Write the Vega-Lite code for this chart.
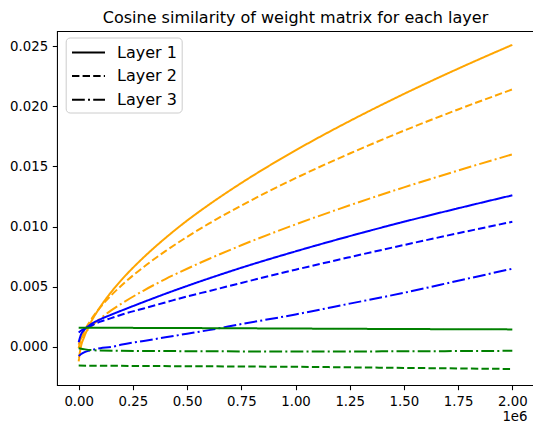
{
  "$schema": "https://vega.github.io/schema/vega-lite/v6.json",
  "autosize": {"type": "none"},
  "width": 477,
  "height": 354,
  "padding": {"left": 57, "top": 31, "right": 0, "bottom": 38},
  "background": "white",
  "title": {"text": "Cosine similarity of weight matrix for each layer", "fontSize": 16, "font": "DejaVu Sans", "fontWeight": "normal", "color": "black", "offset": 5, "anchor": "middle"},
  "config": {
    "font": "DejaVu Sans",
    "view": {"stroke": "black", "strokeWidth": 1.07},
    "axis": {"grid": false, "domain": false, "tickColor": "black", "tickSize": 4.7, "tickWidth": 1.07, "labelPadding": 4.7, "labelFontSize": 13.3, "labelColor": "black", "labelFont": "DejaVu Sans"}
  },
  "data": {"values": [
    {"x": 0, "y": -0.0012, "run": "orange", "layer": "Layer 1"},
    {"x": 5000, "y": -0.0005, "run": "orange", "layer": "Layer 1"},
    {"x": 10000, "y": 0.0000, "run": "orange", "layer": "Layer 1"},
    {"x": 25000, "y": 0.00082, "run": "orange", "layer": "Layer 1"},
    {"x": 50000, "y": 0.00183, "run": "orange", "layer": "Layer 1"},
    {"x": 100000, "y": 0.00334, "run": "orange", "layer": "Layer 1"},
    {"x": 150000, "y": 0.00456, "run": "orange", "layer": "Layer 1"},
    {"x": 200000, "y": 0.00562, "run": "orange", "layer": "Layer 1"},
    {"x": 300000, "y": 0.00745, "run": "orange", "layer": "Layer 1"},
    {"x": 400000, "y": 0.00905, "run": "orange", "layer": "Layer 1"},
    {"x": 500000, "y": 0.0105, "run": "orange", "layer": "Layer 1"},
    {"x": 600000, "y": 0.01181, "run": "orange", "layer": "Layer 1"},
    {"x": 750000, "y": 0.01362, "run": "orange", "layer": "Layer 1"},
    {"x": 1000000, "y": 0.01633, "run": "orange", "layer": "Layer 1"},
    {"x": 1250000, "y": 0.01877, "run": "orange", "layer": "Layer 1"},
    {"x": 1500000, "y": 0.02102, "run": "orange", "layer": "Layer 1"},
    {"x": 1750000, "y": 0.02312, "run": "orange", "layer": "Layer 1"},
    {"x": 2000000, "y": 0.0251, "run": "orange", "layer": "Layer 1"},

    {"x": 0, "y": -0.0001, "run": "orange", "layer": "Layer 2"},
    {"x": 10000, "y": 0.0006, "run": "orange", "layer": "Layer 2"},
    {"x": 25000, "y": 0.00127, "run": "orange", "layer": "Layer 2"},
    {"x": 50000, "y": 0.00207, "run": "orange", "layer": "Layer 2"},
    {"x": 100000, "y": 0.0033, "run": "orange", "layer": "Layer 2"},
    {"x": 150000, "y": 0.00429, "run": "orange", "layer": "Layer 2"},
    {"x": 200000, "y": 0.00515, "run": "orange", "layer": "Layer 2"},
    {"x": 300000, "y": 0.00665, "run": "orange", "layer": "Layer 2"},
    {"x": 400000, "y": 0.00796, "run": "orange", "layer": "Layer 2"},
    {"x": 500000, "y": 0.00915, "run": "orange", "layer": "Layer 2"},
    {"x": 600000, "y": 0.01024, "run": "orange", "layer": "Layer 2"},
    {"x": 750000, "y": 0.01175, "run": "orange", "layer": "Layer 2"},
    {"x": 1000000, "y": 0.01402, "run": "orange", "layer": "Layer 2"},
    {"x": 1250000, "y": 0.01607, "run": "orange", "layer": "Layer 2"},
    {"x": 1500000, "y": 0.01797, "run": "orange", "layer": "Layer 2"},
    {"x": 1750000, "y": 0.01973, "run": "orange", "layer": "Layer 2"},
    {"x": 2000000, "y": 0.0214, "run": "orange", "layer": "Layer 2"},

    {"x": 0, "y": 0.0002, "run": "orange", "layer": "Layer 3"},
    {"x": 10000, "y": 0.00067, "run": "orange", "layer": "Layer 3"},
    {"x": 25000, "y": 0.00106, "run": "orange", "layer": "Layer 3"},
    {"x": 50000, "y": 0.00157, "run": "orange", "layer": "Layer 3"},
    {"x": 100000, "y": 0.00237, "run": "orange", "layer": "Layer 3"},
    {"x": 150000, "y": 0.00304, "run": "orange", "layer": "Layer 3"},
    {"x": 200000, "y": 0.00363, "run": "orange", "layer": "Layer 3"},
    {"x": 300000, "y": 0.00469, "run": "orange", "layer": "Layer 3"},
    {"x": 400000, "y": 0.00564, "run": "orange", "layer": "Layer 3"},
    {"x": 500000, "y": 0.0065, "run": "orange", "layer": "Layer 3"},
    {"x": 600000, "y": 0.00731, "run": "orange", "layer": "Layer 3"},
    {"x": 750000, "y": 0.00845, "run": "orange", "layer": "Layer 3"},
    {"x": 1000000, "y": 0.01018, "run": "orange", "layer": "Layer 3"},
    {"x": 1250000, "y": 0.01177, "run": "orange", "layer": "Layer 3"},
    {"x": 1500000, "y": 0.01326, "run": "orange", "layer": "Layer 3"},
    {"x": 1750000, "y": 0.01466, "run": "orange", "layer": "Layer 3"},
    {"x": 2000000, "y": 0.016, "run": "orange", "layer": "Layer 3"},

    {"x": 0, "y": 0.0004, "run": "blue", "layer": "Layer 1"},
    {"x": 10000, "y": 0.001, "run": "blue", "layer": "Layer 1"},
    {"x": 25000, "y": 0.0014, "run": "blue", "layer": "Layer 1"},
    {"x": 50000, "y": 0.0018, "run": "blue", "layer": "Layer 1"},
    {"x": 100000, "y": 0.0023, "run": "blue", "layer": "Layer 1"},
    {"x": 150000, "y": 0.00268, "run": "blue", "layer": "Layer 1"},
    {"x": 200000, "y": 0.00304, "run": "blue", "layer": "Layer 1"},
    {"x": 300000, "y": 0.00374, "run": "blue", "layer": "Layer 1"},
    {"x": 400000, "y": 0.00442, "run": "blue", "layer": "Layer 1"},
    {"x": 500000, "y": 0.00507, "run": "blue", "layer": "Layer 1"},
    {"x": 600000, "y": 0.00569, "run": "blue", "layer": "Layer 1"},
    {"x": 750000, "y": 0.00658, "run": "blue", "layer": "Layer 1"},
    {"x": 1000000, "y": 0.00794, "run": "blue", "layer": "Layer 1"},
    {"x": 1250000, "y": 0.00921, "run": "blue", "layer": "Layer 1"},
    {"x": 1500000, "y": 0.0104, "run": "blue", "layer": "Layer 1"},
    {"x": 1750000, "y": 0.01152, "run": "blue", "layer": "Layer 1"},
    {"x": 2000000, "y": 0.0126, "run": "blue", "layer": "Layer 1"},

    {"x": 0, "y": 0.0012, "run": "blue", "layer": "Layer 2"},
    {"x": 10000, "y": 0.00135, "run": "blue", "layer": "Layer 2"},
    {"x": 25000, "y": 0.0015, "run": "blue", "layer": "Layer 2"},
    {"x": 50000, "y": 0.0017, "run": "blue", "layer": "Layer 2"},
    {"x": 100000, "y": 0.0021, "run": "blue", "layer": "Layer 2"},
    {"x": 150000, "y": 0.0024, "run": "blue", "layer": "Layer 2"},
    {"x": 200000, "y": 0.0027, "run": "blue", "layer": "Layer 2"},
    {"x": 300000, "y": 0.0032, "run": "blue", "layer": "Layer 2"},
    {"x": 400000, "y": 0.0037, "run": "blue", "layer": "Layer 2"},
    {"x": 500000, "y": 0.0042, "run": "blue", "layer": "Layer 2"},
    {"x": 600000, "y": 0.00464, "run": "blue", "layer": "Layer 2"},
    {"x": 750000, "y": 0.00532, "run": "blue", "layer": "Layer 2"},
    {"x": 1000000, "y": 0.00642, "run": "blue", "layer": "Layer 2"},
    {"x": 1250000, "y": 0.00746, "run": "blue", "layer": "Layer 2"},
    {"x": 1500000, "y": 0.00847, "run": "blue", "layer": "Layer 2"},
    {"x": 1750000, "y": 0.00945, "run": "blue", "layer": "Layer 2"},
    {"x": 2000000, "y": 0.0104, "run": "blue", "layer": "Layer 2"},

    {"x": 0, "y": -0.00075, "run": "blue", "layer": "Layer 3"},
    {"x": 10000, "y": -0.0006, "run": "blue", "layer": "Layer 3"},
    {"x": 25000, "y": -0.00045, "run": "blue", "layer": "Layer 3"},
    {"x": 50000, "y": -0.0003, "run": "blue", "layer": "Layer 3"},
    {"x": 100000, "y": -0.0001, "run": "blue", "layer": "Layer 3"},
    {"x": 150000, "y": 0.0000, "run": "blue", "layer": "Layer 3"},
    {"x": 200000, "y": 0.0002, "run": "blue", "layer": "Layer 3"},
    {"x": 300000, "y": 0.0005, "run": "blue", "layer": "Layer 3"},
    {"x": 400000, "y": 0.0008, "run": "blue", "layer": "Layer 3"},
    {"x": 500000, "y": 0.0011, "run": "blue", "layer": "Layer 3"},
    {"x": 600000, "y": 0.0014, "run": "blue", "layer": "Layer 3"},
    {"x": 750000, "y": 0.0019, "run": "blue", "layer": "Layer 3"},
    {"x": 1000000, "y": 0.0027, "run": "blue", "layer": "Layer 3"},
    {"x": 1250000, "y": 0.0036, "run": "blue", "layer": "Layer 3"},
    {"x": 1500000, "y": 0.0045, "run": "blue", "layer": "Layer 3"},
    {"x": 1750000, "y": 0.0055, "run": "blue", "layer": "Layer 3"},
    {"x": 2000000, "y": 0.0065, "run": "blue", "layer": "Layer 3"},

    {"x": 0, "y": 0.0016, "run": "green", "layer": "Layer 1"},
    {"x": 500000, "y": 0.00157, "run": "green", "layer": "Layer 1"},
    {"x": 1000000, "y": 0.00153, "run": "green", "layer": "Layer 1"},
    {"x": 1500000, "y": 0.00149, "run": "green", "layer": "Layer 1"},
    {"x": 2000000, "y": 0.00146, "run": "green", "layer": "Layer 1"},

    {"x": 0, "y": -0.00155, "run": "green", "layer": "Layer 2"},
    {"x": 500000, "y": -0.0016, "run": "green", "layer": "Layer 2"},
    {"x": 1000000, "y": -0.00165, "run": "green", "layer": "Layer 2"},
    {"x": 1500000, "y": -0.00174, "run": "green", "layer": "Layer 2"},
    {"x": 2000000, "y": -0.00183, "run": "green", "layer": "Layer 2"},

    {"x": 0, "y": -0.0001, "run": "green", "layer": "Layer 3"},
    {"x": 30000, "y": -0.0002, "run": "green", "layer": "Layer 3"},
    {"x": 100000, "y": -0.0003, "run": "green", "layer": "Layer 3"},
    {"x": 500000, "y": -0.00035, "run": "green", "layer": "Layer 3"},
    {"x": 1000000, "y": -0.00038, "run": "green", "layer": "Layer 3"},
    {"x": 1500000, "y": -0.00036, "run": "green", "layer": "Layer 3"},
    {"x": 2000000, "y": -0.00032, "run": "green", "layer": "Layer 3"}
  ]},
  "mark": {"type": "line", "strokeWidth": 2, "interpolate": "monotone"},
  "encoding": {
    "x": {"field": "x", "type": "quantitative",
      "scale": {"domain": [-100000, 2100000], "nice": false, "zero": false},
      "axis": {"values": [0, 250000, 500000, 750000, 1000000, 1250000, 1500000, 1750000, 2000000],
        "labelExpr": "format(datum.value/1000000, '.2f')",
        "title": "1e6", "titleFontSize": 13.3, "titleFontWeight": "normal", "titleColor": "black", "titleFont": "DejaVu Sans",
        "titleAlign": "right", "titleAnchor": "end", "titleX": 470, "titleY": 35, "titleBaseline": "alphabetic"}},
    "y": {"field": "y", "type": "quantitative",
      "scale": {"domain": [-0.00316, 0.02625], "nice": false, "zero": false},
      "axis": {"values": [0, 0.005, 0.01, 0.015, 0.02, 0.025], "format": ".3f", "title": null}},
    "color": {"field": "run", "type": "nominal",
      "scale": {"domain": ["orange", "blue", "green"], "range": ["#ffa500", "#0000ff", "#008000"]},
      "legend": null},
    "strokeDash": {"field": "layer", "type": "nominal",
      "scale": {"domain": ["Layer 1", "Layer 2", "Layer 3"], "range": [[1, 0], [7.4, 3.2], [12.8, 3.2, 2, 3.2]]},
      "legend": {"title": null, "orient": "none", "legendX": 8.7, "legendY": 6.5,
        "symbolType": "M-1.65,0H1.65", "symbolSize": 400, "symbolOffset": 7.8, "symbolStrokeColor": "black", "symbolStrokeWidth": 2,
        "labelFontSize": 16, "labelFont": "DejaVu Sans", "labelColor": "black", "labelOffset": 17.5,
        "rowPadding": 4.6, "padding": 4, "strokeColor": "#cccccc", "fillColor": "white", "cornerRadius": 4}}
  }
}
